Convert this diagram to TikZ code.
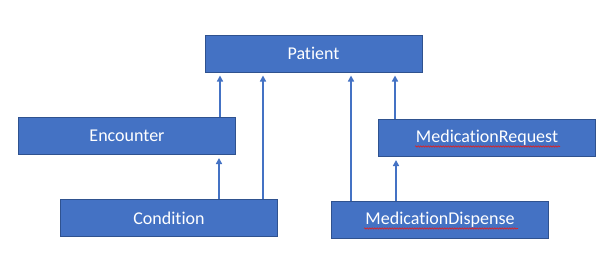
\documentclass[tikz,border=0pt]{standalone}
\usepackage{fontspec}
\setmainfont[Ligatures=NoCommon]{Carlito}
\usetikzlibrary{arrows.meta,decorations.pathmorphing}
\definecolor{boxfill}{HTML}{4472C4}
\definecolor{boxline}{HTML}{2F528F}
\definecolor{squig}{HTML}{E02020}
\tikzset{
  entity/.style={draw=boxline, line width=1pt, fill=boxfill, text=white, inner sep=0pt,
    minimum width=217pt, minimum height=37pt, font=\fontsize{18}{20}\selectfont},
  link/.style={draw=boxfill, line width=1.8pt, -{Triangle[width=6pt,length=6pt]}, shorten >=3pt},
  spell/.style={draw=squig, line width=0.6pt, decorate, decoration={snake, amplitude=0.7pt, segment length=2.5pt}}
}
\begin{document}
\begin{tikzpicture}[x=1pt,y=-1pt]
\useasboundingbox (0,0) rectangle (615,269);
\fill[white] (0,0) rectangle (615,269);
\node[entity] (patient) at (313.5,53.5) {Patient};
\node[entity] (enc) at (127,136) {Encounter};
\node[entity] (cond) at (169,218) {Condition};
\node[entity] (mreq) at (487,138) {MedicationRequest};
\node[entity] (mdis) at (440,220) {MedicationDispense};
% squiggly spell marks
\coordinate (sq1a) at (415,146.5); \coordinate (sq1b) at (560,146.5);
\coordinate (sq2a) at (364,228.5); \coordinate (sq2b) at (518,228.5);
\draw[spell] (sq1a) -- (sq1b);
\draw[spell] (sq2a) -- (sq2b);
% connector x positions
\coordinate (xa) at (220,0);
\coordinate (xb) at (219,0);
\coordinate (xc) at (263,0);
\coordinate (xd) at (351,0);
\coordinate (xe) at (395,0);
\coordinate (xf) at (396,0);
\draw[link] (enc.north -| xa) -- (patient.south -| xa);
\draw[link] (cond.north -| xb) -- (enc.south -| xb);
\draw[link] (cond.north -| xc) -- (patient.south -| xc);
\draw[link] (mdis.north -| xd) -- (patient.south -| xd);
\draw[link] (mreq.north -| xe) -- (patient.south -| xe);
\draw[link] (mdis.north -| xf) -- (mreq.south -| xf);
\end{tikzpicture}
\end{document}
